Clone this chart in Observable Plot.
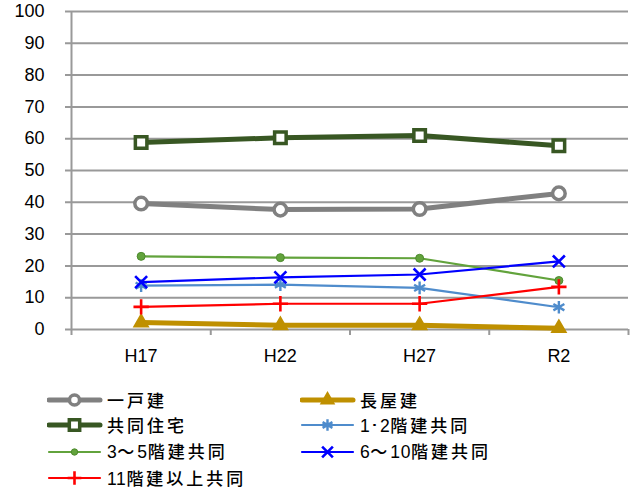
<!DOCTYPE html>
<html><head><meta charset="utf-8">
<script src="https://cdn.jsdelivr.net/npm/d3@7"></script>
<script src="https://cdn.jsdelivr.net/npm/@observablehq/plot@0.6"></script>
<style>
body{margin:0;background:#fff;}
#legend{position:relative;height:124px;width:633px;font-family:"Noto Sans CJK JP","Noto Sans",sans-serif;font-size:17px;letter-spacing:3px;font-weight:500;color:#000}
.item{position:absolute;display:flex;align-items:center;height:22px;white-space:nowrap}
.item svg{margin-right:4px;display:block}
.item .lbl{line-height:22px;display:block}
.item .num{font-family:"Liberation Sans",Arial,sans-serif;font-size:17.5px;letter-spacing:0.6px}
</style></head><body><div id="chart"></div><div id="legend"></div>
<script>
// ---- data ----
const years = ["H17", "H22", "H27", "R2"];
const yTicks = [0, 10, 20, 30, 40, 50, 60, 70, 80, 90, 100];
const seriesNames = ["一戸建", "長屋建", "共同住宅", "1･2階建共同", "3～5階建共同", "6～10階建共同", "11階建以上共同"];
const ikkodate = [39.6, 37.7, 37.9, 42.8];
const nagayadate = [2.2, 1.3, 1.3, 0.4];
const kyodoJutaku = [58.8, 60.3, 61.0, 57.8];
const kai1_2 = [13.8, 14.1, 13.1, 7.0];
const kai3_5 = [23.0, 22.6, 22.4, 15.4];
const kai6_10 = [14.9, 16.4, 17.3, 21.4];
const kai11 = [7.1, 8.1, 8.1, 13.4];
const seriesValues = [ikkodate, nagayadate, kyodoJutaku, kai1_2, kai3_5, kai6_10, kai11];

// ---- styles ----
const styles = [
  {stroke: "#808080", sw: 5, symbol: "circle", r: 6.3, fill: "white", mstroke: "#808080", msw: 3.5},
  {stroke: "#bf9000", sw: 5, symbol: "triangle", r: 5, fill: "#bf9000", mstroke: "#bf9000", msw: 2},
  {stroke: "#385723", sw: 5, symbol: "square", r: 6.5, fill: "white", mstroke: "#385723", msw: 3.5},
  {stroke: "#4f8ccc", sw: 2.2, symbol: "asterisk", r: 6, fill: "none", mstroke: "#4f8ccc", msw: 2.4},
  {stroke: "#62a33c", sw: 2.2, symbol: "circle", r: 4, fill: "#62a33c", mstroke: "#4d8a2e", msw: 1},
  {stroke: "#0000ff", sw: 2.2, symbol: "times", r: 5.5, fill: "none", mstroke: "#0000ff", msw: 2.6},
  {stroke: "#ff0000", sw: 2.2, symbol: "plus", r: 5, fill: "none", mstroke: "#ff0000", msw: 2.6}
];

const rows = seriesNames.flatMap((name, s) => years.map((yr, i) => ({name, i, value: seriesValues[s][i]})));
const bounds = years.map((_, i) => i - 0.5).concat([years.length - 0.5]);
const gridColor = "#999999";

const marks = [
  Plot.ruleY(yTicks, {y: d => d, x1: -0.5, x2: years.length - 0.5, insetLeft: -6, stroke: gridColor, strokeWidth: 2}),
  Plot.ruleX([bounds[0]], {x: d => d, y1: 0, y2: 100, stroke: gridColor, strokeWidth: 2}),
  Plot.ruleX(bounds, {x: d => d, y1: 0, y2: 0, insetBottom: -6, stroke: gridColor, strokeWidth: 2}),
  Plot.text(years, {x: (d, i) => i, y: 0, dy: 27, text: d => d, fontSize: 18, fill: "#000"})
];
seriesNames.forEach((name, s) => {
  const st = styles[s];
  const data = rows.filter(d => d.name === name);
  marks.push(Plot.line(data, {x: "i", y: "value", stroke: st.stroke, strokeWidth: st.sw, strokeLinejoin: "round", strokeLinecap: "round"}));
  marks.push(Plot.dot(data, {x: "i", y: "value", symbol: () => st.symbol, r: st.r, fill: st.fill, stroke: st.mstroke, strokeWidth: st.msw}));
});

const chart = Plot.plot({
  width: 633, height: 372,
  marginTop: 11, marginBottom: 43, marginLeft: 71, marginRight: 5,
  style: {fontFamily: "'Liberation Sans', Arial, sans-serif", fontSize: "18px", background: "white", color: "#000"},
  x: {domain: [-0.5, years.length - 0.5], axis: null},
  y: {domain: [0, 100], ticks: yTicks, tickSize: 0, tickPadding: 27, label: null},
  symbol: {type: "identity"},
  marks
});
document.getElementById("chart").appendChild(chart);

// ---- legend ----
const legend = d3.select("#legend");
const colLeft = [47, 300];
const rowTop = [17, 42, 68.7, 95];
const symMap = {circle: d3.symbolCircle, triangle: d3.symbolTriangle, square: d3.symbolSquare, asterisk: d3.symbolAsterisk, times: d3.symbolTimes, plus: d3.symbolPlus};
seriesNames.forEach((name, s) => {
  const st = styles[s];
  const item = legend.append("div").attr("class", "item")
    .style("left", colLeft[s % 2] + "px").style("top", rowTop[Math.floor(s / 2)] + "px");
  const svg = item.append("svg").attr("width", 56).attr("height", 22);
  svg.append("line").attr("x1", 2).attr("x2", 53).attr("y1", 11).attr("y2", 11)
    .attr("stroke", st.stroke).attr("stroke-width", st.sw).attr("stroke-linecap", "round");
  const scale = st.symbol === "circle" ? 0.8 : 0.9;
  svg.append("path").attr("transform", "translate(27.5,11)")
    .attr("d", d3.symbol(symMap[st.symbol], Math.PI * (st.r * scale) ** 2)())
    .attr("fill", st.fill).attr("stroke", st.mstroke).attr("stroke-width", st.msw);
  const lbl = item.append("span").attr("class", "lbl");
  name.split(/([0-9･]+)/).filter(t => t.length).forEach(t => {
    lbl.append("span").attr("class", /^[0-9･]+$/.test(t) ? "num" : null).text(t);
  });
});
</script>
</body></html>
